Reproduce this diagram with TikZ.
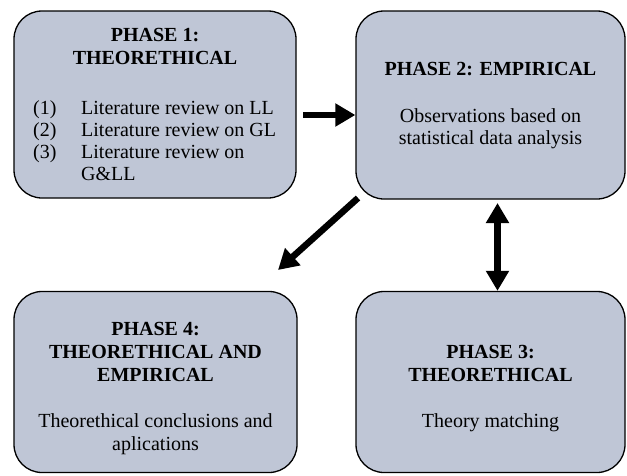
\documentclass[tikz,border=0pt]{standalone}
\usepackage{fontspec}
\setmainfont{Liberation Serif}
\usetikzlibrary{arrows.meta}
\definecolor{boxfill}{RGB}{191,198,214}
\tikzset{
  phasebox/.style={draw=black, line width=1.3pt, fill=boxfill, rounded corners=28pt, inner sep=0pt},
  ttl/.style={anchor=base, inner sep=0pt, font=\fontsize{20}{23}\selectfont\bfseries},
  txt/.style={anchor=base, inner sep=0pt, font=\fontsize{20}{23}\selectfont},
  fat/.style={line width=6.5pt, -{Triangle[length=20pt,width=22pt]}},
  fatboth/.style={line width=6.5pt, {Triangle[length=20pt,width=22pt]}-{Triangle[length=20pt,width=22pt]}}
}
\begin{document}
\begin{tikzpicture}[x=1pt,y=-1pt]
\useasboundingbox (0,0) rectangle (627,475);
% boxes
\node[phasebox, minimum width=282pt, minimum height=187pt] (b1) at (155,104.5) {};
\node[phasebox, minimum width=269pt, minimum height=188pt] (b2) at (490.5,105) {};
\node[phasebox, minimum width=283pt, minimum height=181pt] (b4) at (155.5,382) {};
\node[phasebox, minimum width=269pt, minimum height=181pt] (b3) at (490.5,382) {};
% box 1 text
\node[ttl] (t1a) at (155,41) {PHASE 1:};
\node[ttl] (t1b) at (155,64) {THEORETHICAL};
\node[txt, anchor=base west] (n1) at (33,114) {(1)};
\node[txt, anchor=base west] (n2) at (33,136) {(2)};
\node[txt, anchor=base west] (n3) at (33,158) {(3)};
\node[txt, anchor=base west] (l1) at (81,114) {Literature review on LL};
\node[txt, anchor=base west] (l2) at (81,136) {Literature review on GL};
\node[txt, anchor=base west] (l3) at (81,158) {Literature review on};
\node[txt, anchor=base west] (l4) at (81,180) {G\&LL};
% box 2 text
\node[ttl] (t2a) at (490.5,75) {PHASE 2: EMPIRICAL};
\node[txt] (t2b) at (490.5,122) {Observations based on};
\node[txt] (t2c) at (490.5,144) {statistical data analysis};
% box 4 text
\node[ttl] (t4a) at (155.5,335) {PHASE 4:};
\node[ttl] (t4b) at (155.5,358) {THEORETHICAL AND};
\node[ttl] (t4c) at (155.5,381) {EMPIRICAL};
\node[txt] (t4d) at (155.5,427) {Theorethical conclusions and};
\node[txt] (t4e) at (155.5,450) {aplications};
% box 3 text
\node[ttl] (t3a) at (490.5,358) {PHASE 3:};
\node[ttl] (t3b) at (490.5,381) {THEORETHICAL};
\node[txt] (t3c) at (490.5,427) {Theory matching};
% arrows
\coordinate (a1) at (303,115);
\draw[fat] (a1) -- (a1 -| b2.west);
\coordinate (a2s) at (358,198);
\coordinate (a2e) at (278,270);
\draw[fat] (a2s) -- (a2e);
\coordinate (a3) at (497.5,203);
\draw[fatboth] (a3) -- (a3 |- b3.north);
\end{tikzpicture}
\end{document}
